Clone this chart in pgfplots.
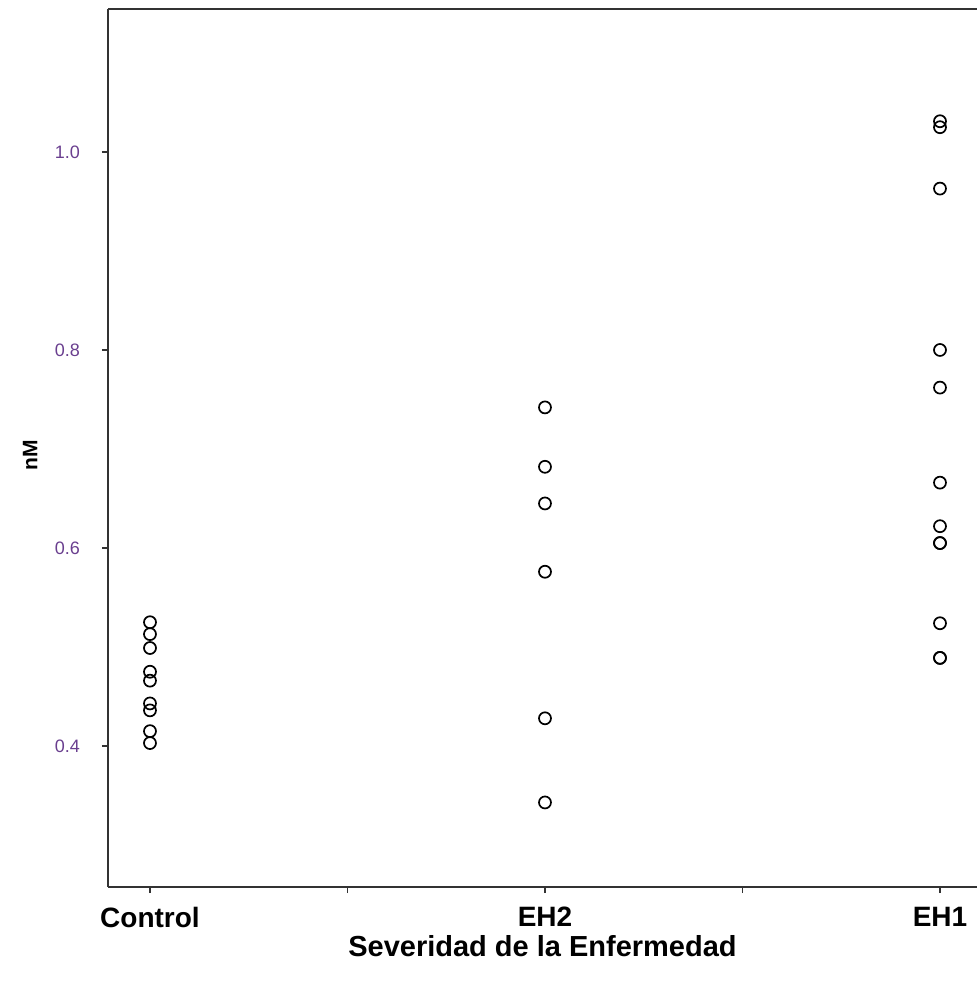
\documentclass[border=0pt]{standalone}
\usepackage{pgfplots}
\pgfplotsset{compat=1.18}
\usepackage{fontspec}
\setmainfont{Liberation Sans}
\definecolor{axgray}{HTML}{333333}
\definecolor{ticklab}{HTML}{6A3F8F}
\begin{document}
\begin{tikzpicture}[x=1pt,y=1pt]
\begin{axis}[
  at={(0,0)}, anchor=south west,
  scale only axis,
  width=869pt, height=878pt,
  xmin=-0.1063, xmax=2.0937,
  ymin=0.2576, ymax=1.1444,
  axis x line*=box, axis y line*=left,
  axis line style={draw=axgray, line width=1.8pt},
  xtick={0,0.5,1,1.5,2},
  xticklabels={Control,,EH2,,EH1},
  ytick={0.4,0.6,0.8,1.0},
  tick align=outside,
  xtick pos=bottom, ytick pos=left,
  major tick length=6pt,
  tick style={draw=axgray, line width=1.4pt},
  yticklabel style={font=\fontsize{18}{21}\selectfont, text=ticklab, anchor=east, inner sep=0pt, xshift=-22pt},
  xticklabel style={font=\bfseries\fontsize{28}{32}\selectfont, anchor=north, inner sep=0pt, yshift=-14pt},
  /pgf/number format/assume math mode=true,
  /pgf/number format/.cd, fixed, fixed zerofill, precision=1,
  /pgfplots/.cd,
  xlabel={Severidad de la Enfermedad},
  ylabel={nM},
  xlabel style={font=\bfseries\fontsize{29}{33}\selectfont, at={(axis description cs:0.5,0)}, anchor=north, inner sep=0pt, yshift=-48pt},
  ylabel style={font=\bfseries\fontsize{21}{24}\selectfont, at={(axis description cs:-0.0897,0.492)}, anchor=center, inner sep=0pt},
  clip=false,
]
\addplot[only marks, mark=o, mark size=6pt, mark options={line width=1.7pt, draw=black}] coordinates {
  (0,0.525) (0,0.513) (0,0.499) (0,0.475) (0,0.466) (0,0.443) (0,0.436) (0,0.415) (0,0.403)
  (1,0.742) (1,0.682) (1,0.645) (1,0.576) (1,0.428) (1,0.343)
  (2,1.031) (2,1.025) (2,0.963) (2,0.800) (2,0.762) (2,0.666) (2,0.622) (2,0.605) (2,0.605) (2,0.524) (2,0.489) (2,0.489)
};
\end{axis}
\pgfresetboundingbox
\path (-108,-103) rectangle (869,887);
\end{tikzpicture}
\end{document}
